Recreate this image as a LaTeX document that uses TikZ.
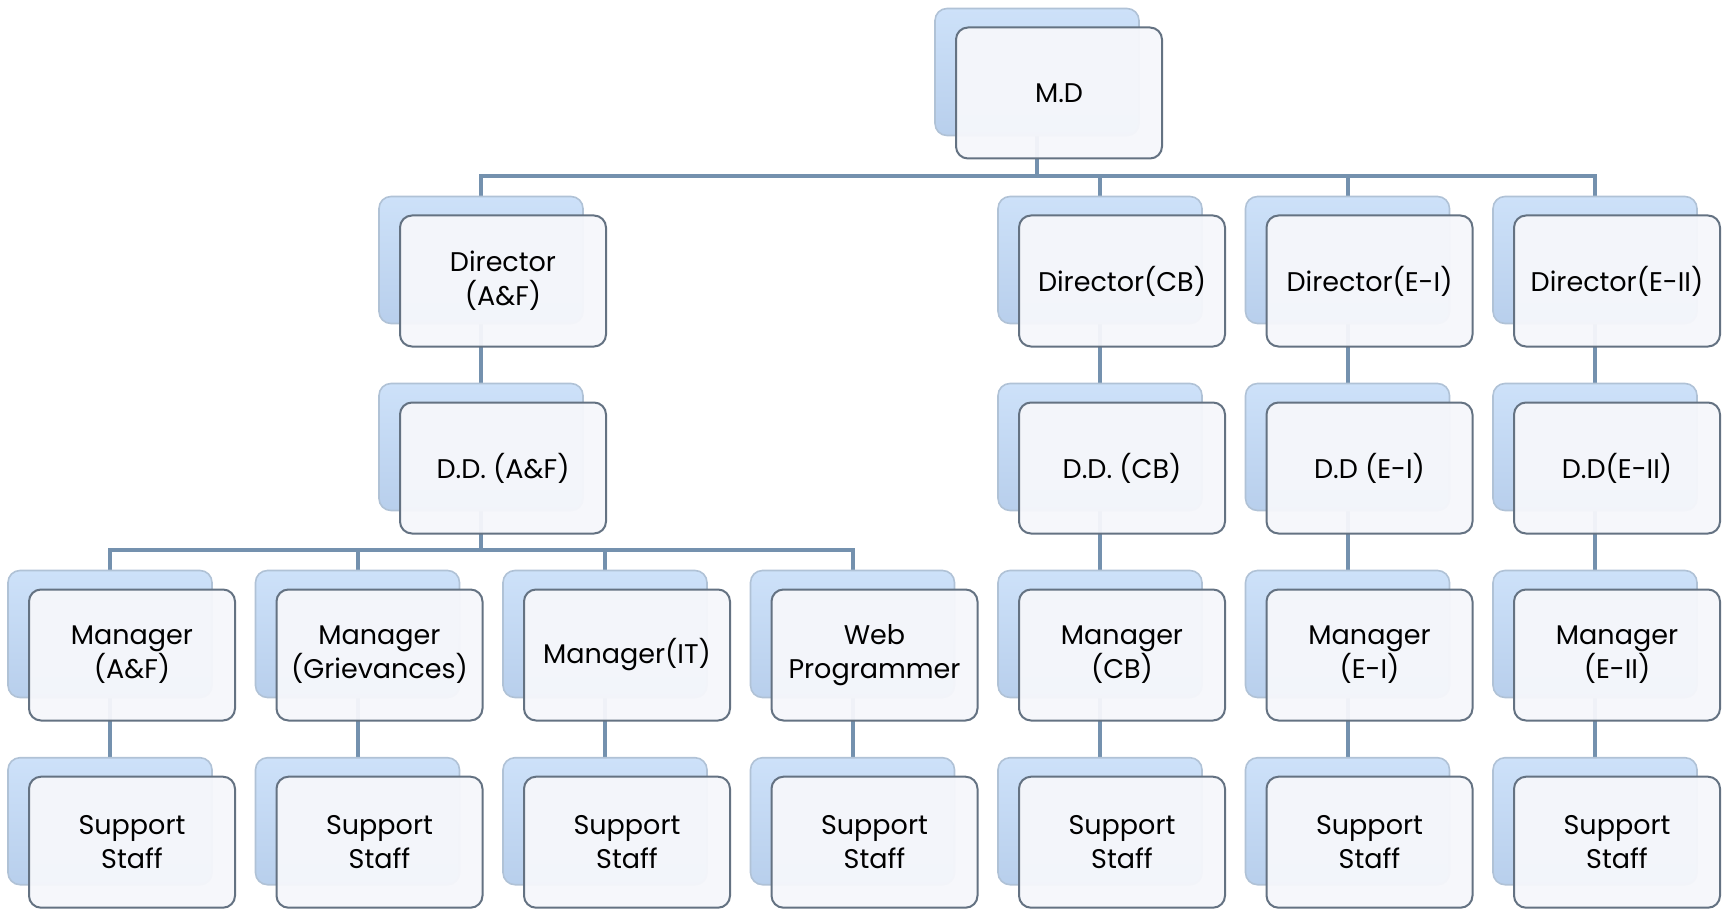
\documentclass[tikz,border=0pt]{standalone}
\usepackage{fontspec}
\setmainfont{Poppins}
\usetikzlibrary{backgrounds}
\definecolor{linkblue}{RGB}{116,145,174}
\definecolor{backtop}{RGB}{205,225,249}
\definecolor{backbot}{RGB}{184,207,236}
\definecolor{backline}{RGB}{176,194,214}
\definecolor{frontline}{RGB}{100,114,130}
\definecolor{frontfill}{RGB}{246,247,251}

\begin{document}
\begin{tikzpicture}[x=0.5pt,y=-0.5pt,
		backbox/.style = {rectangle,rounded corners=6pt,draw=backline,line width=0.8pt,top color=backtop,bottom color=backbot,minimum width=102pt,minimum height=63.5pt,inner sep=0pt},
		frontbox/.style = {rectangle,rounded corners=6pt,draw=frontline,line width=1pt,fill=frontfill,fill opacity=0.95,text opacity=1,minimum width=103pt,minimum height=65.5pt,inner sep=1pt,align=center,font=\fontsize{13.5}{17}\selectfont},
		link/.style = {draw=linkblue,line width=2pt}]
		\useasboundingbox (0,0) rectangle (1727,909);
		% top
		\node [backbox] (md) at (1037,72) {};
		\node [frontbox] (md-t) at ([shift={(22,21)}]md.center) {M.D};
		% directors
		\node [backbox] (dirAF) at (481,260) {};
		\node [frontbox] (dirAF-t) at ([shift={(22,21)}]dirAF.center) {Director\\(A\&F)};
		\node [backbox] (dirCB) at (1100,260) {};
		\node [frontbox] (dirCB-t) at ([shift={(22,21)}]dirCB.center) {Director(CB)};
		\node [backbox] (dirE1) at (1347.5,260) {};
		\node [frontbox] (dirE1-t) at ([shift={(22,21)}]dirE1.center) {Director(E-I)};
		\node [backbox] (dirE2) at (1595,260) {};
		\node [frontbox] (dirE2-t) at ([shift={(22,21)}]dirE2.center) {Director(E-II)};
		% deputy directors
		\node [backbox] (ddAF) at (481,447) {};
		\node [frontbox] (ddAF-t) at ([shift={(22,21)}]ddAF.center) {D.D. (A\&F)};
		\node [backbox] (ddCB) at (1100,447) {};
		\node [frontbox] (ddCB-t) at ([shift={(22,21)}]ddCB.center) {D.D. (CB)};
		\node [backbox] (ddE1) at (1347.5,447) {};
		\node [frontbox] (ddE1-t) at ([shift={(22,21)}]ddE1.center) {D.D (E-I)};
		\node [backbox] (ddE2) at (1595,447) {};
		\node [frontbox] (ddE2-t) at ([shift={(22,21)}]ddE2.center) {D.D(E-II)};
		% managers
		\node [backbox] (mAF) at (110,634) {};
		\node [frontbox] (mAF-t) at ([shift={(22,21)}]mAF.center) {Manager\\(A\&F)};
		\node [backbox] (mGr) at (357.5,634) {};
		\node [frontbox] (mGr-t) at ([shift={(22,21)}]mGr.center) {Manager\\(Grievances)};
		\node [backbox] (mIT) at (605,634) {};
		\node [frontbox] (mIT-t) at ([shift={(22,21)}]mIT.center) {Manager(IT)};
		\node [backbox] (web) at (852.5,634) {};
		\node [frontbox] (web-t) at ([shift={(22,21)}]web.center) {Web\\Programmer};
		\node [backbox] (mCB) at (1100,634) {};
		\node [frontbox] (mCB-t) at ([shift={(22,21)}]mCB.center) {Manager\\(CB)};
		\node [backbox] (mE1) at (1347.5,634) {};
		\node [frontbox] (mE1-t) at ([shift={(22,21)}]mE1.center) {Manager\\(E-I)};
		\node [backbox] (mE2) at (1595,634) {};
		\node [frontbox] (mE2-t) at ([shift={(22,21)}]mE2.center) {Manager\\(E-II)};
		% support staff under every manager
		\foreach \p in {mAF,mGr,mIT,web,mCB,mE1,mE2} {
			\node [backbox] (ss-\p) at ([yshift=-93.6pt]\p.center) {};
			\node [frontbox] (ss-\p-t) at ([shift={(22,21)}]ss-\p.center) {Support\\Staff};
			\begin{scope}[on background layer]
				\draw [link] (\p) -- (ss-\p);
			\end{scope}
		}
		% connectors
		\begin{scope}[on background layer]
			\foreach \c in {dirAF,dirCB,dirE1,dirE2}
				\draw [link] (md) |- ([yshift=10pt]\c.north) -- (\c.north);
			\foreach \c in {mAF,mGr,mIT,web}
				\draw [link] (ddAF) |- ([yshift=10pt]\c.north) -- (\c.north);
			\draw [link] (dirAF) -- (ddAF);
			\draw [link] (dirCB) -- (ddCB) -- (mCB);
			\draw [link] (dirE1) -- (ddE1) -- (mE1);
			\draw [link] (dirE2) -- (ddE2) -- (mE2);
		\end{scope}
\end{tikzpicture}
\end{document}
